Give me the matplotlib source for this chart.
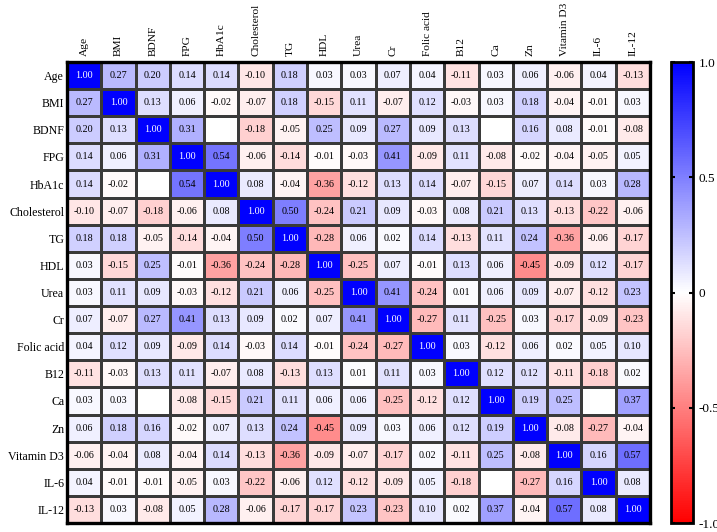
import numpy as np
import matplotlib.pyplot as plt
from matplotlib.colors import LinearSegmentedColormap

labels = ["Age", "BMI", "BDNF", "FPG", "HbA1c", "Cholesterol", "TG", "HDL", "Urea",
          "Cr", "Folic acid", "B12", "Ca", "Zn", "Vitamin D3", "IL-6", "IL-12"]

nan = np.nan
corr = [
    [1.00, 0.27, 0.20, 0.14, 0.14, -0.10, 0.18, 0.03, 0.03, 0.07, 0.04, -0.11, 0.03, 0.06, -0.06, 0.04, -0.13],
    [0.27, 1.00, 0.13, 0.06, -0.02, -0.07, 0.18, -0.15, 0.11, -0.07, 0.12, -0.03, 0.03, 0.18, -0.04, -0.01, 0.03],
    [0.20, 0.13, 1.00, 0.31, nan, -0.18, -0.05, 0.25, 0.09, 0.27, 0.09, 0.13, nan, 0.16, 0.08, -0.01, -0.08],
    [0.14, 0.06, 0.31, 1.00, 0.54, -0.06, -0.14, -0.01, -0.03, 0.41, -0.09, 0.11, -0.08, -0.02, -0.04, -0.05, 0.05],
    [0.14, -0.02, nan, 0.54, 1.00, 0.08, -0.04, -0.36, -0.12, 0.13, 0.14, -0.07, -0.15, 0.07, 0.14, 0.03, 0.28],
    [-0.10, -0.07, -0.18, -0.06, 0.08, 1.00, 0.50, -0.24, 0.21, 0.09, -0.03, 0.08, 0.21, 0.13, -0.13, -0.22, -0.06],
    [0.18, 0.18, -0.05, -0.14, -0.04, 0.50, 1.00, -0.28, 0.06, 0.02, 0.14, -0.13, 0.11, 0.24, -0.36, -0.06, -0.17],
    [0.03, -0.15, 0.25, -0.01, -0.36, -0.24, -0.28, 1.00, -0.25, 0.07, -0.01, 0.13, 0.06, -0.45, -0.09, 0.12, -0.17],
    [0.03, 0.11, 0.09, -0.03, -0.12, 0.21, 0.06, -0.25, 1.00, 0.41, -0.24, 0.01, 0.06, 0.09, -0.07, -0.12, 0.23],
    [0.07, -0.07, 0.27, 0.41, 0.13, 0.09, 0.02, 0.07, 0.41, 1.00, -0.27, 0.11, -0.25, 0.03, -0.17, -0.09, -0.23],
    [0.04, 0.12, 0.09, -0.09, 0.14, -0.03, 0.14, -0.01, -0.24, -0.27, 1.00, 0.03, -0.12, 0.06, 0.02, 0.05, 0.10],
    [-0.11, -0.03, 0.13, 0.11, -0.07, 0.08, -0.13, 0.13, 0.01, 0.11, 0.03, 1.00, 0.12, 0.12, -0.11, -0.18, 0.02],
    [0.03, 0.03, nan, -0.08, -0.15, 0.21, 0.11, 0.06, 0.06, -0.25, -0.12, 0.12, 1.00, 0.19, 0.25, nan, 0.37],
    [0.06, 0.18, 0.16, -0.02, 0.07, 0.13, 0.24, -0.45, 0.09, 0.03, 0.06, 0.12, 0.19, 1.00, -0.08, -0.27, -0.04],
    [-0.06, -0.04, 0.08, -0.04, 0.14, -0.13, -0.36, -0.09, -0.07, -0.17, 0.02, -0.11, 0.25, -0.08, 1.00, 0.16, 0.57],
    [0.04, -0.01, -0.01, -0.05, 0.03, -0.22, -0.06, 0.12, -0.12, -0.09, 0.05, -0.18, nan, -0.27, 0.16, 1.00, 0.08],
    [-0.13, 0.03, -0.08, 0.05, 0.28, -0.06, -0.17, -0.17, 0.23, -0.23, 0.10, 0.02, 0.37, -0.04, 0.57, 0.08, 1.00],
]

cbar_ticks = [1.0, 0.5, 0, -0.5, -1.0]
cbar_ticklabels = ["1.0", "0.5", "0", "-0.5", "-1.0"]

plt.rcParams['font.family'] = ['Liberation Serif', 'DejaVu Serif']

data = np.array(corr)
n = len(labels)
cmap = LinearSegmentedColormap.from_list("rwb", ["#ff0000", "#ffffff", "#0000ff"])
cmap.set_bad("white")

fig = plt.figure(figsize=(7.17, 5.32), dpi=100)
# heatmap box: x 67..650 px, y 62..523 px
ax = fig.add_axes([67 / 717, 9 / 532, 583 / 717, 461 / 532])
mesh = ax.pcolormesh(np.ma.masked_invalid(data), cmap=cmap, vmin=-1, vmax=1,
                     edgecolors="#3a3a3a", linewidth=0.9)
ax.set_xlim(0, n)
ax.set_ylim(n, 0)

for i in range(n):
    for j in range(n):
        v = data[i, j]
        if np.isnan(v):
            continue
        col = "white" if v >= 0.9 else "black"
        ax.text(j + 0.5, i + 0.5, f"{v:.2f}", ha="center", va="center",
                fontsize=7.3, color=col)

ax.set_xticks(np.arange(n) + 0.5)
ax.set_yticks(np.arange(n) + 0.5)
ax.set_xticklabels(labels, rotation=90, fontsize=8.2)
ax.set_yticklabels(labels, fontsize=8.6)
ax.xaxis.tick_top()
ax.tick_params(axis="x", length=0, pad=4)
ax.tick_params(axis="y", length=0, pad=2)
for s in ax.spines.values():
    s.set_linewidth(2.4)
    s.set_color("black")

cax = fig.add_axes([671 / 717, 9 / 532, 22 / 717, 461 / 532])
cb = fig.colorbar(mesh, cax=cax)
cb.set_ticks(cbar_ticks)
cb.set_ticklabels(cbar_ticklabels)
cb.outline.set_linewidth(2)
cax.tick_params(labelsize=9.5, length=3, width=1.5, direction="in",
                left=True, right=True, pad=4)

fig.savefig("out.png", dpi=100)
